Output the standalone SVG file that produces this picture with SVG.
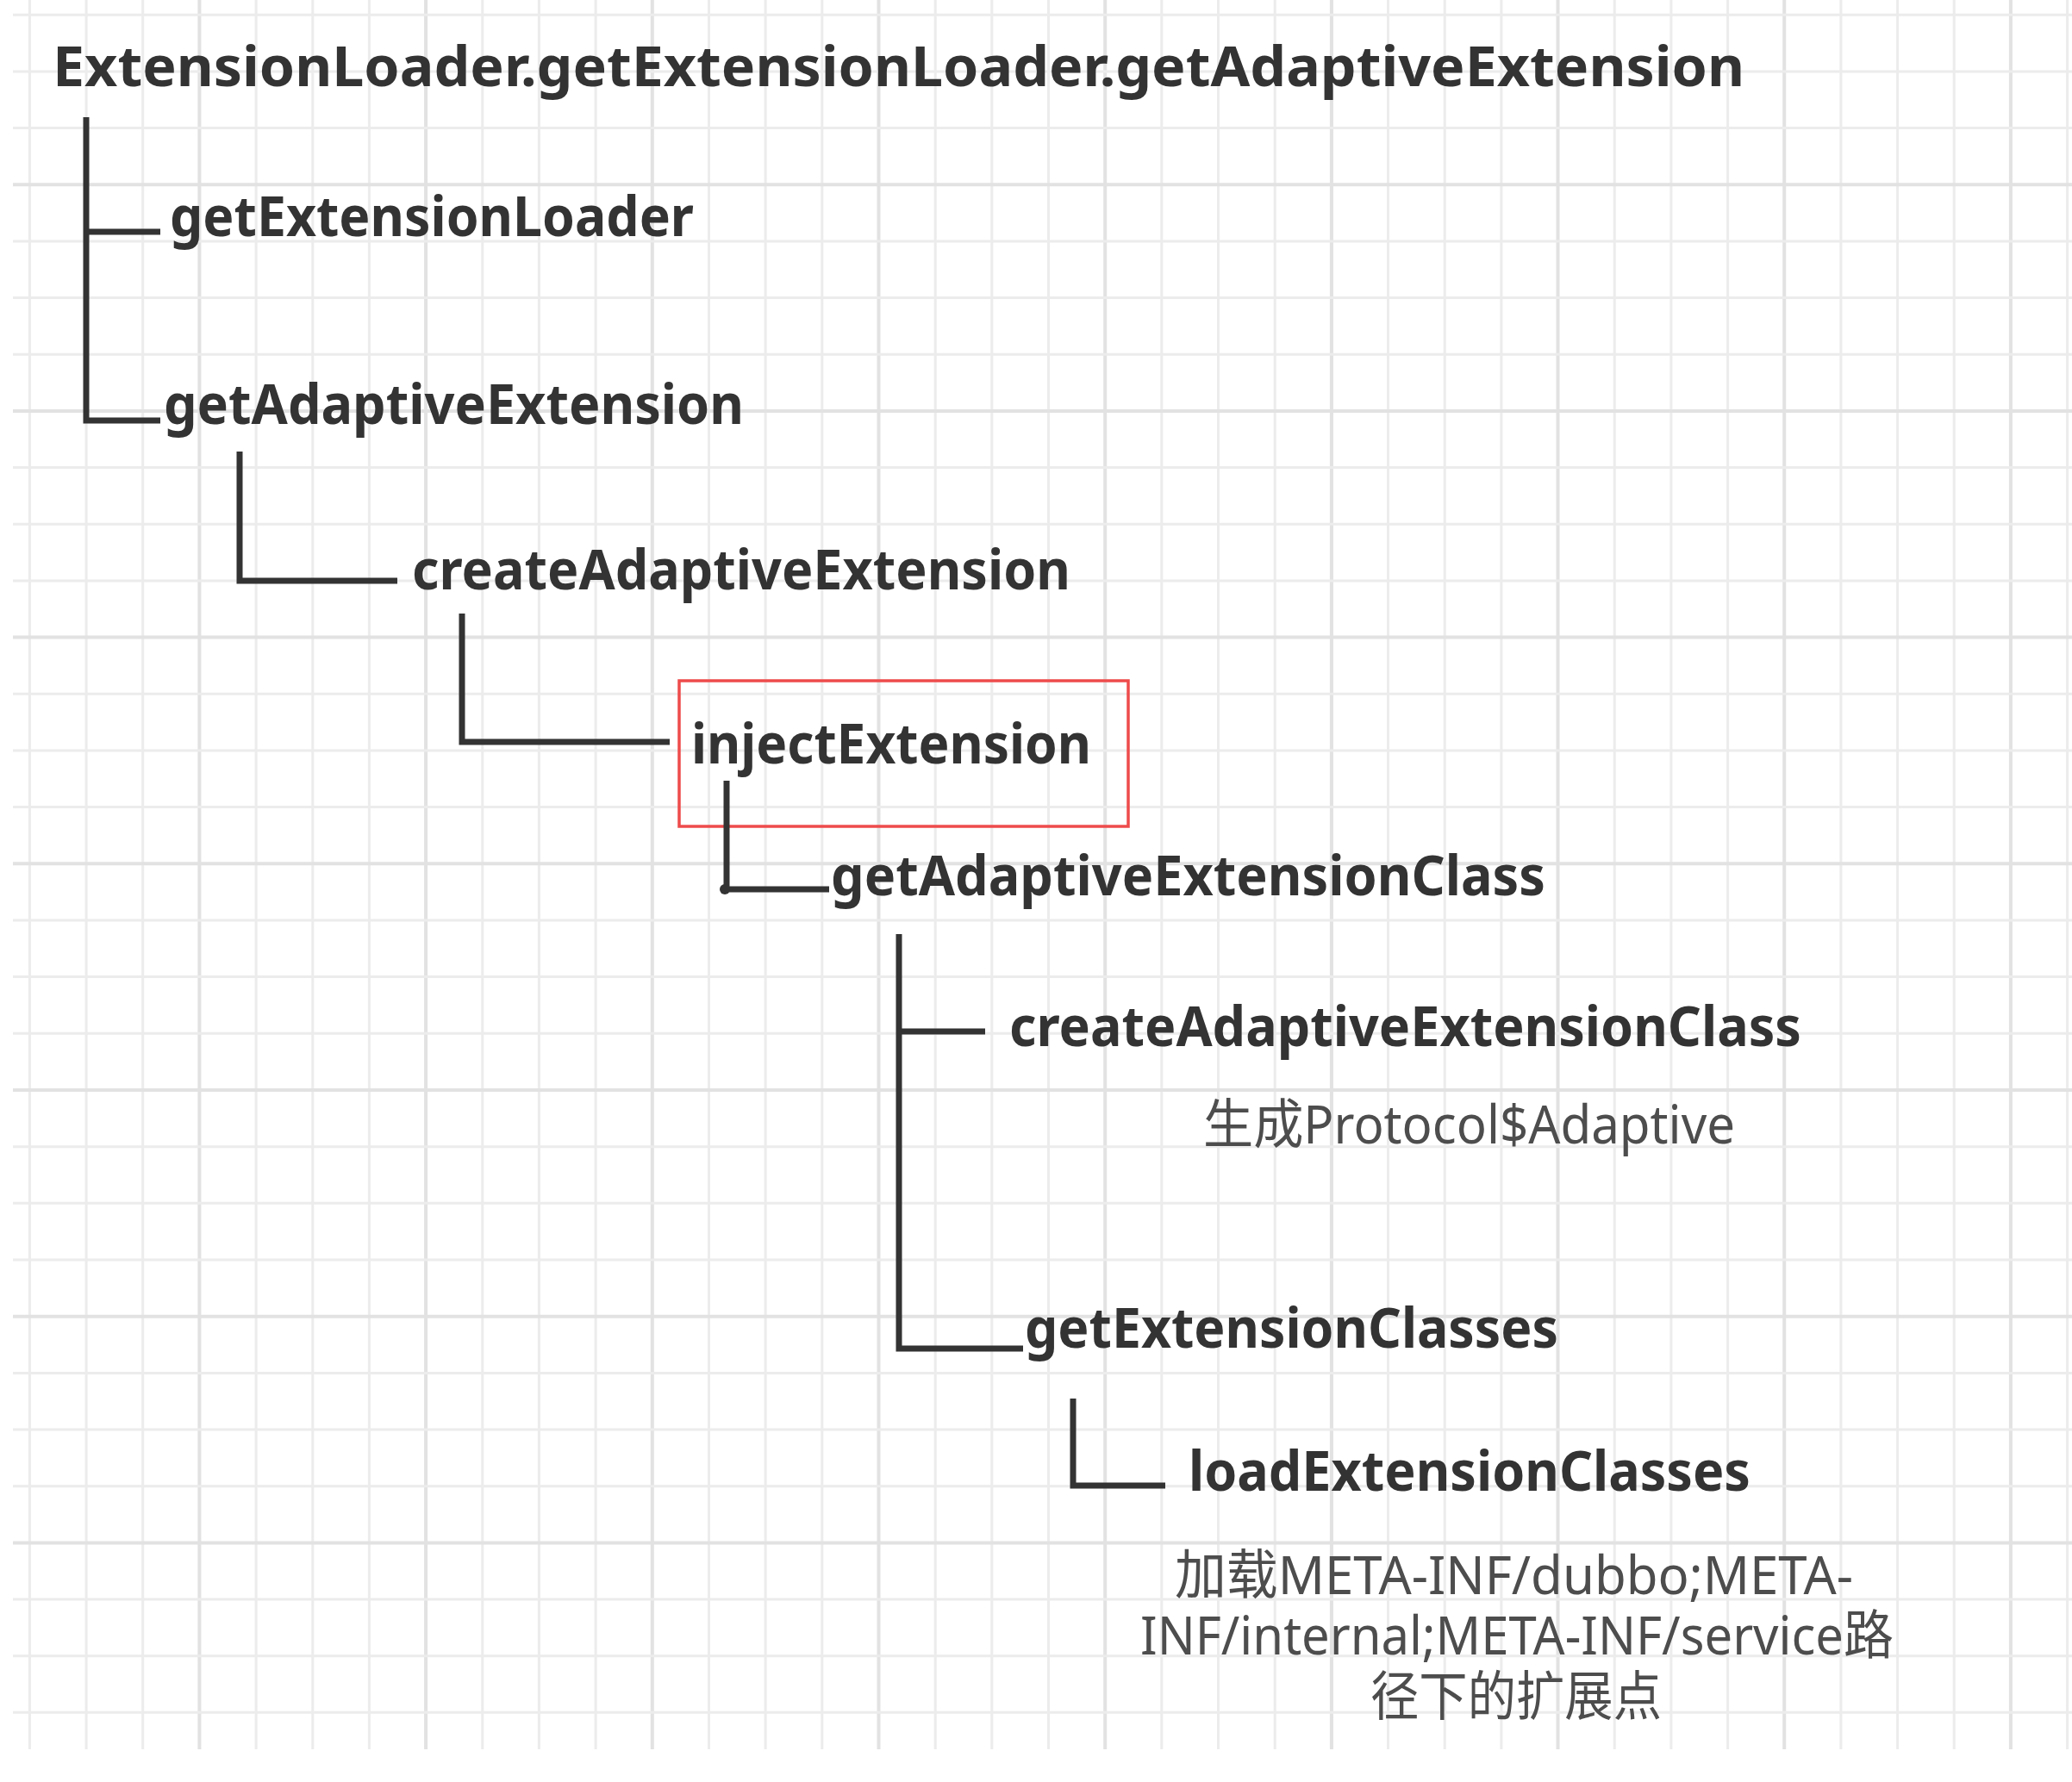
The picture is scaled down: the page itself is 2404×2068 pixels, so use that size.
<svg xmlns="http://www.w3.org/2000/svg" width="2404" height="2068" viewBox="0 0 2404 2068">
<defs>
<style>
.gm{stroke:#ececec;stroke-width:3;fill:none}
.gM{stroke:#e2e2e2;stroke-width:4;fill:none}
.c{stroke:#333333;stroke-width:7;fill:none;stroke-linejoin:miter;stroke-linecap:butt}
.b{font-family:"Noto Sans","Open Sans","DejaVu Sans",sans-serif;font-weight:bold;font-size:64px;fill:#333333}
.r{font-family:"Noto Sans","Noto Sans CJK SC",sans-serif;font-weight:normal;font-size:62px;fill:#4d4d4d}
</style>
</defs>
<rect x="0" y="0" width="2404" height="2068" fill="#ffffff"/>
<g id="grid">
<path class="gm" d="M34.4,0V2030M100.1,0V2030M165.7,0V2030M297.1,0V2030M362.8,0V2030M428.4,0V2030M559.8,0V2030M625.4,0V2030M691.1,0V2030M822.5,0V2030M888.1,0V2030M953.8,0V2030M1085.2,0V2030M1150.8,0V2030M1216.5,0V2030M1347.8,0V2030M1413.5,0V2030M1479.2,0V2030M1610.5,0V2030M1676.2,0V2030M1741.9,0V2030M1873.2,0V2030M1938.9,0V2030M2004.6,0V2030M2135.9,0V2030M2201.6,0V2030M2267.2,0V2030M2398.6,0V2030"/>
<path class="gM" d="M231.4,0V2030M494.1,0V2030M756.8,0V2030M1019.5,0V2030M1282.2,0V2030M1544.9,0V2030M1807.5,0V2030M2070.2,0V2030M2332.9,0V2030"/>
<path class="gm" d="M15,17.2H2404M15,82.9H2404M15,148.5H2404M15,279.9H2404M15,345.6H2404M15,411.2H2404M15,542.6H2404M15,608.3H2404M15,673.9H2404M15,805.3H2404M15,870.9H2404M15,936.6H2404M15,1068H2404M15,1133.6H2404M15,1199.3H2404M15,1330.7H2404M15,1396.3H2404M15,1462H2404M15,1593.4H2404M15,1659H2404M15,1724.7H2404M15,1856.1H2404M15,1921.7H2404M15,1987.3H2404"/>
<path class="gM" d="M15,214.2H2404M15,476.9H2404M15,739.6H2404M15,1002.3H2404M15,1265H2404M15,1527.7H2404M15,1790.4H2404"/>
</g>
<g id="highlight">
<rect x="788" y="790" width="521" height="169" fill="none" stroke="#ee4b4b" stroke-width="3.5"/>
</g>
<g id="connectors">
<path class="c" d="M100,136V488H186"/>
<path class="c" d="M100,269H186"/>
<path class="c" d="M278,524V674H461"/>
<path class="c" d="M536,712V861H777"/>
<path class="c" d="M843,906V1032H962"/>
<circle cx="841" cy="1032" r="6" fill="#333333"/>
<path class="c" d="M1043,1084V1565H1187"/>
<path class="c" d="M1043,1197H1143"/>
<path class="c" d="M1245,1623V1724H1352"/>
</g>
<g id="node-root"><text class="b" x="61" y="100" textLength="1963" lengthAdjust="spacingAndGlyphs">ExtensionLoader.getExtensionLoader.getAdaptiveExtension</text></g>
<g id="node-getExtensionLoader"><text class="b" x="197" y="274" textLength="608" lengthAdjust="spacingAndGlyphs">getExtensionLoader</text></g>
<g id="node-getAdaptiveExtension"><text class="b" x="190" y="492" textLength="673" lengthAdjust="spacingAndGlyphs">getAdaptiveExtension</text></g>
<g id="node-createAdaptiveExtension"><text class="b" x="478" y="684" textLength="764" lengthAdjust="spacingAndGlyphs">createAdaptiveExtension</text></g>
<g id="node-injectExtension"><text class="b" x="802" y="886" textLength="464" lengthAdjust="spacingAndGlyphs">injectExtension</text></g>
<g id="node-getAdaptiveExtensionClass"><text class="b" x="964" y="1039" textLength="829" lengthAdjust="spacingAndGlyphs">getAdaptiveExtensionClass</text></g>
<g id="node-createAdaptiveExtensionClass"><text class="b" x="1171" y="1214" textLength="919" lengthAdjust="spacingAndGlyphs">createAdaptiveExtensionClass</text>
<text class="r" x="1396" y="1327" textLength="617" lengthAdjust="spacingAndGlyphs">生成Protocol$Adaptive</text></g>
<g id="node-getExtensionClasses"><text class="b" x="1189" y="1564" textLength="619" lengthAdjust="spacingAndGlyphs">getExtensionClasses</text></g>
<g id="node-loadExtensionClasses"><text class="b" x="1379" y="1730" textLength="652" lengthAdjust="spacingAndGlyphs">loadExtensionClasses</text>
<text class="r" x="1363" y="1850" textLength="787" lengthAdjust="spacingAndGlyphs">加载META-INF/dubbo;META-</text>
<text class="r" x="1323" y="1920" textLength="874" lengthAdjust="spacingAndGlyphs">INF/internal;META-INF/service路</text>
<text class="r" x="1590" y="1991" textLength="338" lengthAdjust="spacingAndGlyphs">径下的扩展点</text></g>
</svg>
